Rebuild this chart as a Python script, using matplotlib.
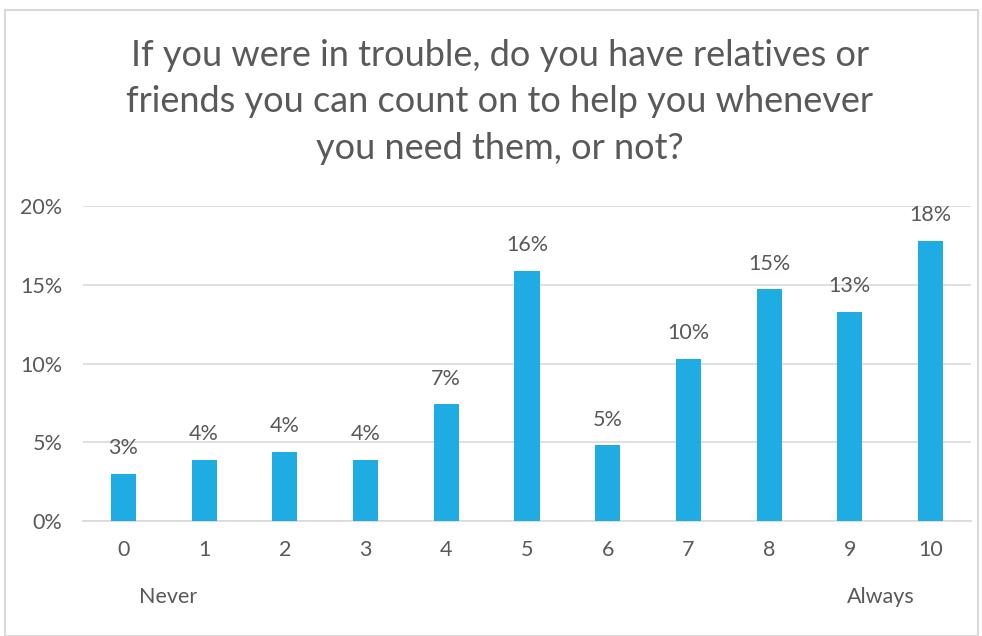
import matplotlib.pyplot as plt
from matplotlib.patches import Rectangle
from matplotlib.ticker import PercentFormatter

plt.rcParams['font.family'] = ['Lato', 'DejaVu Sans']

categories = ['0', '1', '2', '3', '4', '5', '6', '7', '8', '9', '10']
values = [3.0, 3.9, 4.4, 3.9, 7.4, 15.9, 4.8, 10.3, 14.7, 13.3, 17.8]
labels = ['3%', '4%', '4%', '4%', '7%', '16%', '5%', '10%', '15%', '13%', '18%']
title = 'If you were in trouble, do you have relatives or\nfriends you can count on to help you whenever\nyou need them, or not?'

W, H = 982, 636
fig = plt.figure(figsize=(W / 100, H / 100), dpi=100)
fig.patches.append(Rectangle((5 / W, 0), 973 / W, 1 - 10 / H, transform=fig.transFigure,
                             fill=False, edgecolor='#D9D9D9', linewidth=1.5))

ax = fig.add_axes([83 / W, 1 - 521 / H, (971 - 83) / W, (521 - 206) / H])
x = range(len(categories))
ax.bar(x, values, width=0.31, color='#1EACE2', zorder=3)
for xi, v, lab in zip(x, values, labels):
    ax.text(xi, v + 1.0, lab, ha='center', va='bottom', fontsize=15.5, color='#595959')

ax.set_xlim(-0.5, 10.5)
ax.set_ylim(0, 20)
ax.set_yticks([0, 5, 10, 15, 20])
ax.yaxis.set_major_formatter(PercentFormatter(decimals=0))
ax.set_xticks(list(x))
ax.set_xticklabels(categories)
ax.tick_params(length=0, labelsize=15.5, labelcolor='#595959')
ax.tick_params(axis='y', pad=15)
ax.tick_params(axis='x', pad=14)
ax.grid(axis='y', color='#D9D9D9', linewidth=1.2, zorder=0)
for s in ['top', 'right', 'left']:
    ax.spines[s].set_visible(False)
ax.spines['bottom'].set_color('#D9D9D9')
ax.spines['bottom'].set_linewidth(1.2)

fig.text(168 / W, 1 - 597 / H, 'Never', ha='center', va='center', fontsize=15.5, color='#595959')
fig.text(881 / W, 1 - 597 / H, 'Always', ha='center', va='center', fontsize=15.5, color='#595959')
fig.text(500 / W, 1 - 102 / H, title, ha='center', va='center', fontsize=26,
         color='#595959', linespacing=1.5)

fig.savefig('out.png', dpi=100)
